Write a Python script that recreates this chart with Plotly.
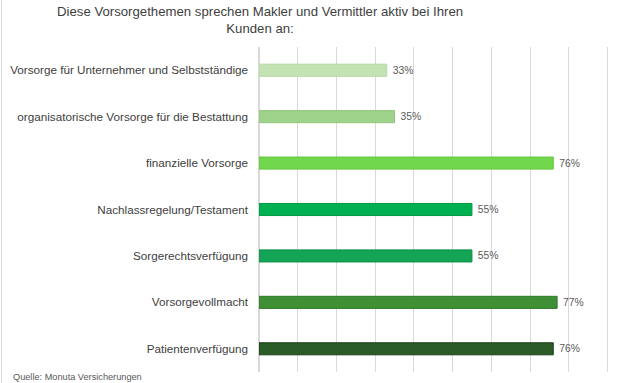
import plotly.graph_objects as go

categories = [
    "Vorsorge für Unternehmer und Selbstständige",
    "organisatorische Vorsorge für die Bestattung",
    "finanzielle Vorsorge",
    "Nachlassregelung/Testament",
    "Sorgerechtsverfügung",
    "Vorsorgevollmacht",
    "Patientenverfügung",
]
values = [0.33, 0.35, 0.76, 0.55, 0.55, 0.77, 0.76]
value_labels = ["33%", "35%", "76%", "55%", "55%", "77%", "76%"]
colors = ["#c3e3b3", "#9fd38c", "#70d64c", "#00b050", "#14a455", "#3f8f34", "#2b5b26"]
outlines = ["#b5d9a3", "#8fc47c", "#62c840", "#009a44", "#0c9148", "#2f7a27", "#1c3f18"]

title = "Diese Vorsorgethemen sprechen Makler und Vermittler aktiv bei Ihren<br>Kunden an:"
source = "Quelle: Monuta Versicherungen"

W, H = 621, 383
ML, MR, MT, MB = 259, 0, 47, 11
PW, PH = W - ML - MR, H - MT - MB

fig = go.Figure(
    go.Bar(
        y=categories,
        x=values,
        orientation="h",
        marker=dict(color=colors, line=dict(color=outlines, width=1)),
        width=0.26,
        text=["\u00a0" + t for t in value_labels],
        textposition="outside",
        textfont=dict(family="Liberation Sans, Arial, sans-serif", size=12, color="#595959"),
        cliponaxis=False,
    )
)

fig.update_layout(
    width=W,
    height=H,
    margin=dict(l=ML, r=MR, t=MT, b=MB),
    paper_bgcolor="white",
    plot_bgcolor="white",
    showlegend=False,
    font=dict(family="Liberation Sans, Arial, sans-serif", color="#404040"),
    xaxis=dict(
        range=[0, 0.935],
        dtick=0.1,
        showgrid=True,
        gridcolor="#d9d9d9",
        gridwidth=1,
        showticklabels=False,
        zeroline=True,
        zerolinecolor="#d9d9d9",
        ticks="",
    ),
    yaxis=dict(
        autorange="reversed",
        showgrid=False,
        ticks="",
        ticklabelstandoff=10,
        tickfont=dict(size=11.7, color="#404040"),
    ),
    annotations=[
        dict(
            text=title,
            xref="paper",
            yref="paper",
            x=(260 - ML) / PW,
            y=1 + MT / PH,
            xanchor="center",
            yanchor="top",
            yshift=-2,
            showarrow=False,
            align="center",
            font=dict(size=13.2, color="#404040"),
        ),
        dict(
            text=source,
            xref="paper",
            yref="paper",
            x=-ML / PW,
            y=-MB / PH,
            xanchor="left",
            yanchor="bottom",
            xshift=11,
            yshift=-1,
            showarrow=False,
            font=dict(size=9.2, color="#595959"),
        ),
    ],
    shapes=[
        dict(
            type="line",
            xref="paper",
            yref="paper",
            x0=(-ML + 1.5) / PW,
            x1=(-ML + 1.5) / PW,
            y0=-MB / PH,
            y1=1 + MT / PH,
            line=dict(color="#d9d9d9", width=1),
        )
    ],
)

fig.write_html(
    "out.html",
    config={"displayModeBar": False},
    post_script="document.body.style.margin='0px';document.body.style.padding='0px';",
)
